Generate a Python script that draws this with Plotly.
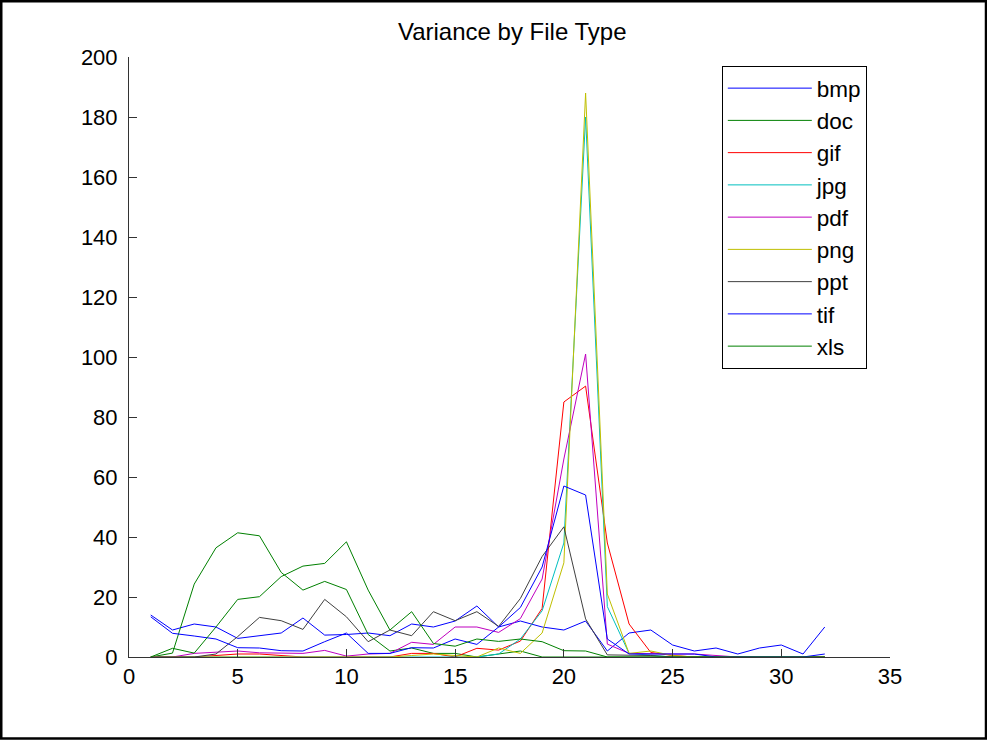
import plotly.graph_objects as go

x = list(range(1, 33))

bmp = [14, 9, 11, 10, 6.2, 7, 8, 13, 7.3, 7.5, 8, 7.1, 11, 10, 12, 17, 10, 12, 10, 9,
       12, 2, 8, 9, 4, 2, 3, 1, 3, 4, 1, 10]
doc = [0, 1.3, 24.3, 36.4, 41.4, 40.4, 28.2, 22.3, 25.2, 22.5, 7.5, 2, 3, 1.2, 1.2, 0,
       1, 2, 0, 0, 0, 0, 0, 0, 0, 0, 0, 0, 0, 0, 0, 0]
gif = [0, 0, 0, 0.5, 1, 1, 0.5, 0, 0, 0, 0, 0, 1.2, 1.2, 0, 2.9, 2.3, 5.3, 16.2, 85,
       90.3, 38, 11, 1.5, 0.5, 0, 0, 0, 0, 0, 0, 0]
jpg = [0, 0, 0, 0, 0, 0, 0, 0, 0, 0, 0, 0, 0, 0, 0, 0, 1, 6, 15.4, 38, 180, 16.8, 1.2,
       0.5, 0, 0, 0, 0, 0, 0, 0, 0]
pdf = [0, 0, 1.2, 1.5, 2, 1.4, 1.2, 1.2, 2.2, 0.3, 1, 1.2, 4.9, 4.2, 10, 10, 8.2, 12.8,
       26, 66, 101, 4.3, 1.2, 1, 1, 1, 0.5, 0, 0, 0, 0, 0]
png = [0, 0, 0, 0, 0, 0, 0, 0, 0, 0, 0, 0, 0.5, 1, 0.5, 0, 3, 1.2, 8, 31.4, 188, 21,
       1.2, 2, 0.5, 0, 0, 0, 0, 0, 0, 0]
ppt = [0, 0, 0, 1, 6.8, 13.2, 12.1, 9.2, 19.2, 13.4, 5.1, 9, 7.1, 15.1, 12.1, 15.1,
       10.2, 19.5, 33.5, 43.4, 12.7, 0.7, 0.7, 0.5, 0, 0, 0, 0, 0, 0, 0, 0]
tif = [13.4, 7.9, 7, 6, 3.1, 3, 2.1, 2, 5.1, 8, 1.2, 1.2, 3.1, 3, 6, 4.2, 10, 16.5, 30,
       57, 54, 6, 1, 1, 1, 1, 0, 0, 0, 0, 0, 1]
xls = [0, 2.9, 1.3, 10, 19.2, 20.1, 26.8, 30.3, 31.2, 38.4, 22.3, 9, 15.1, 4.5, 3.6, 6,
       5.2, 6, 5.1, 2.1, 2, 0, 0, 0, 0, 0, 0, 0, 0, 0, 0, 0]

names = ["bmp", "doc", "gif", "jpg", "pdf", "png", "ppt", "tif", "xls"]
series = [bmp, doc, gif, jpg, pdf, png, ppt, tif, xls]
colors = ["#0000FF", "#008000", "#FF0000", "#00BFBF", "#BF00BF", "#BFBF00",
          "#404040", "#0000FF", "#008000"]

x_ticks = [0, 5, 10, 15, 20, 25, 30, 35]
y_ticks = [0, 20, 40, 60, 80, 100, 120, 140, 160, 180, 200]

FONT = "Liberation Sans, Arial, Helvetica, sans-serif"

fig = go.Figure()
for name, ys, col in zip(names, series, colors):
    fig.add_trace(go.Scatter(x=x, y=ys, mode="lines", name=name,
                             line=dict(color=col, width=1)))

fig.update_layout(
    width=987, height=740,
    margin=dict(l=129, r=97, t=57, b=83),
    paper_bgcolor="white", plot_bgcolor="white",
    font=dict(family=FONT, size=22, color="black"),
    title=dict(text="Variance by File Type", x=0.519, xanchor="center",
               y=1 - 32 / 740, yanchor="middle",
               font=dict(family=FONT, size=24, color="black")),
    legend=dict(x=0.779, y=0.985, xanchor="left", yanchor="top",
                bgcolor="white", bordercolor="black", borderwidth=1,
                font=dict(family=FONT, size=22.5, color="black"),
                itemwidth=84),
    showlegend=True,
)
fig.update_xaxes(range=[0, 35], tickvals=x_ticks, ticks="inside", ticklen=8,
                 tickcolor="#333333", showline=True, linecolor="#333333",
                 linewidth=1, showgrid=False, zeroline=False, mirror=False,
                 tickfont=dict(size=22))
fig.update_yaxes(range=[0, 200], tickvals=y_ticks, ticks="inside", ticklen=8,
                 tickcolor="#333333", showline=True, linecolor="#333333",
                 linewidth=1, showgrid=False, zeroline=False, mirror=False,
                 tickfont=dict(size=22), ticklabelstandoff=6)

# outer figure frame
fig.add_shape(type="rect", xref="paper", yref="paper",
              x0=(1.25 - 129) / 761, x1=(986 - 129) / 761,
              y0=(657 - 738.5) / 600, y1=(657 - 1.25) / 600,
              line=dict(color="black", width=2.5), fillcolor="rgba(0,0,0,0)",
              layer="above")

fig.write_html("out.html")
